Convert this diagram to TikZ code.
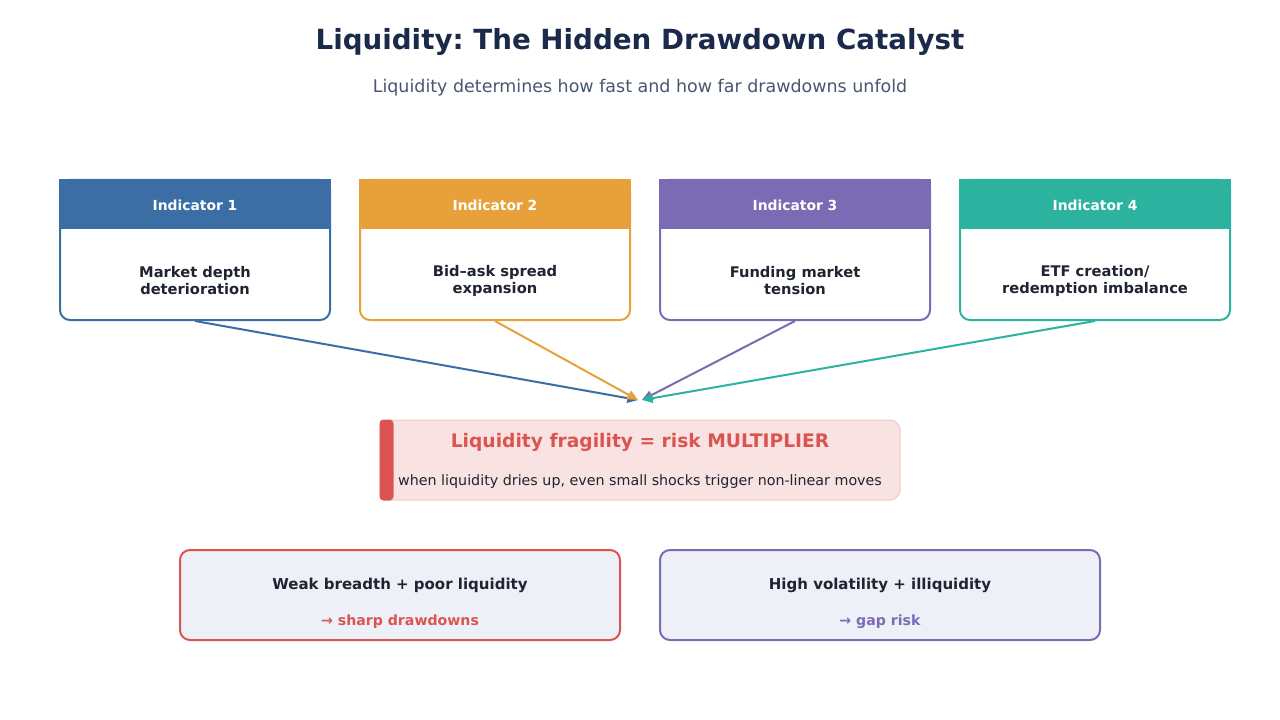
\documentclass[tikz,border=0pt]{standalone}
\usepackage{fontspec}
\setmainfont{DejaVu Sans}
\usetikzlibrary{arrows.meta}
\frenchspacing

\definecolor{inkdark}{HTML}{1B2A4A}
\definecolor{inksub}{HTML}{4A5570}
\definecolor{inkbody}{HTML}{1E2430}
\definecolor{indblue}{HTML}{3A6EA5}
\definecolor{indorange}{HTML}{E8A13A}
\definecolor{indpurple}{HTML}{7B6BB5}
\definecolor{indteal}{HTML}{2BB3A0}
\definecolor{riskred}{HTML}{DB5450}
\definecolor{riskfill}{HTML}{F8E2E2}
\definecolor{riskedge}{HTML}{F3CBCB}
\definecolor{outfill}{HTML}{EEF0F8}

\tikzset{every picture/.style={line width=1.5pt}}
\tikzset{
  card/.style={draw, fill=white, rounded corners=7.5pt, minimum width=202.5pt, minimum height=105pt, inner sep=0pt},
  headtxt/.style={text=white, font=\bfseries\fontsize{10.4}{12}\selectfont},
  bodytxt/.style={text=inkbody, align=center, font=\bfseries\fontsize{11}{12.75}\selectfont},
  feed/.style={-{Triangle[length=8pt,width=7pt]}, line width=1.5pt},
  outbox/.style={draw, fill=outfill, rounded corners=7.5pt, minimum width=330pt, minimum height=67.5pt, inner sep=0pt}
}

\begin{document}
\begin{tikzpicture}[x=0.75pt,y=0.75pt,yscale=-1,xscale=1]
\path[use as bounding box, fill=white] (0,0) rectangle (1280,720);

% Title
\node[text=inkdark, font=\bfseries\fontsize{20.8}{24}\selectfont] (title) at (640,41.5) {Liquidity: The Hidden Drawdown Catalyst};
\node[text=inksub, font=\fontsize{13.1}{15}\selectfont] (subtitle) at (640,87.5) {Liquidity determines how fast and how far drawdowns unfold};

% Indicator cards
\node[card, draw=indblue] (ind1) at (195,250) {};
\fill[indblue] (ind1.north west) rectangle ([yshift=37.5pt]ind1.north east);
\node[headtxt] (h1) at (195,205) {Indicator 1};
\node[bodytxt] (b1) at (195,280.5) {Market depth\\deterioration};

\node[card, draw=indorange] (ind2) at (495,250) {};
\fill[indorange] (ind2.north west) rectangle ([yshift=37.5pt]ind2.north east);
\node[headtxt] (h2) at (495,205) {Indicator 2};
\node[bodytxt] (b2) at (495,280.5) {Bid–ask spread\\expansion};

\node[card, draw=indpurple] (ind3) at (795,250) {};
\fill[indpurple] (ind3.north west) rectangle ([yshift=37.5pt]ind3.north east);
\node[headtxt] (h3) at (795,205) {Indicator 3};
\node[bodytxt] (b3) at (795,280.5) {Funding market\\tension};

\node[card, draw=indteal] (ind4) at (1095,250) {};
\fill[indteal] (ind4.north west) rectangle ([yshift=37.5pt]ind4.north east);
\node[headtxt] (h4) at (1095,205) {Indicator 4};
\node[bodytxt] (b4) at (1095,280.5) {ETF creation/\\redemption imbalance};

% Converging arrows
\coordinate (hubL) at (638,400);
\coordinate (hubR) at (642,400);
\draw[feed, indblue] (ind1.south) -- (hubL);
\draw[feed, indorange] (ind2.south) -- (hubL);
\draw[feed, indpurple] (ind3.south) -- (hubR);
\draw[feed, indteal] (ind4.south) -- (hubR);

% Risk multiplier box
\node[draw=riskedge, fill=riskfill, line width=0.75pt, rounded corners=7.5pt, minimum width=390pt, minimum height=60pt, inner sep=0pt] (frag) at (640,460) {};
\fill[riskred, rounded corners=3pt] (frag.north west) rectangle ([xshift=10.5pt]frag.south west);
\node[text=riskred, font=\bfseries\fontsize{14}{16}\selectfont] (fragtitle) at (640,442.5) {Liquidity fragility = risk MULTIPLIER};
\node[text=inkbody, font=\fontsize{10.7}{12}\selectfont] (fragsub) at (640,481.5) {when liquidity dries up, even small shocks trigger non-linear moves};

% Outcomes
\node[outbox, draw=riskred] (out1) at (400,595) {};
\node[text=inkbody, font=\bfseries\fontsize{11.25}{13}\selectfont] (o1a) at (400,585) {Weak breadth + poor liquidity};
\node[text=riskred, font=\bfseries\fontsize{10.6}{12}\selectfont] (o1b) at (400,621.5) {→ sharp drawdowns};

\node[outbox, draw=indpurple] (out2) at (880,595) {};
\node[text=inkbody, font=\bfseries\fontsize{11.25}{13}\selectfont] (o2a) at (880,585) {High volatility + illiquidity};
\node[text=indpurple, font=\bfseries\fontsize{10.6}{12}\selectfont] (o2b) at (880,621.5) {→ gap risk};
\end{tikzpicture}
\end{document}
